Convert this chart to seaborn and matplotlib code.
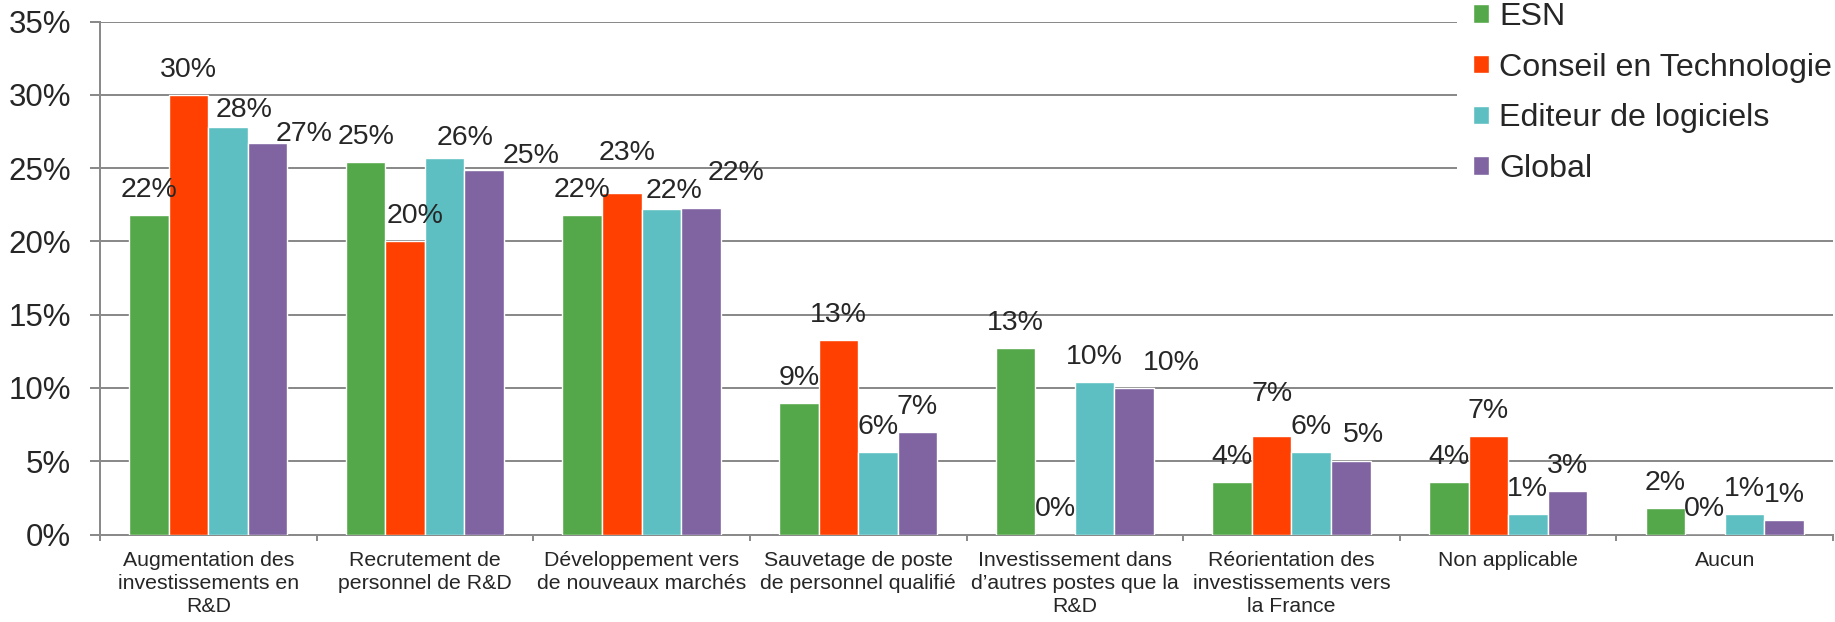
import matplotlib
matplotlib.use("Agg")
import matplotlib.pyplot as plt
import seaborn as sns
import pandas as pd
from matplotlib.ticker import FixedLocator, PercentFormatter

# données (en %)
categories = [
    "Augmentation des\ninvestissements en\nR&D",
    "Recrutement de\npersonnel de R&D",
    "Développement vers\nde nouveaux marchés",
    "Sauvetage de poste\nde personnel qualifié",
    "Investissement dans\nd’autres postes que la\nR&D",
    "Réorientation des\ninvestissements vers\nla France",
    "Non applicable",
    "Aucun",
]
series = ["ESN", "Conseil en Technologie", "Editeur de logiciels", "Global"]
esn = [21.8, 25.4, 21.8, 9.0, 12.7, 3.6, 3.6, 1.8]
conseil = [30.0, 20.0, 23.3, 13.3, 0.0, 6.7, 6.7, 0.0]
editeur = [27.8, 25.7, 22.2, 5.6, 10.4, 5.6, 1.4, 1.4]
global_ = [26.7, 24.9, 22.3, 7.0, 10.0, 5.0, 3.0, 1.0]
y_ticks = [0, 5, 10, 15, 20, 25, 30, 35]

colors = ["#55A84A", "#FF4000", "#5DBFC2", "#8064A2"]
grid_color = "#8A8A8A"

# quelques étiquettes déplacées à la main dans l'original : (décalage x, écart au-dessus) en px
label_nudge = {
    (0, 2): (16, 10), (0, 3): (36, 2),
    (1, 1): (10, 18), (1, 2): (20, 13), (1, 3): (47, 7),
    (2, 1): (5, 33), (2, 2): (13, 11), (2, 3): (35, 28),
    (4, 3): (37, 18),
    (5, 1): (0, 35), (5, 3): (13, 19),
}

rows = []
for name, vals in zip(series, [esn, conseil, editeur, global_]):
    for cat, v in zip(categories, vals):
        rows.append({"categorie": cat, "serie": name, "valeur": v})
df = pd.DataFrame(rows)

sns.set_theme(style="white")
plt.rcParams["font.family"] = ["Liberation Sans", "DejaVu Sans"]

px = 72 / 100  # points par pixel

fig = plt.figure(figsize=(18.35, 6.22), dpi=100)
ax = fig.add_axes([100 / 1835, 87.5 / 622, 1733 / 1835, 512.8 / 622])

sns.barplot(data=df, x="categorie", y="valeur", hue="serie", order=categories,
            hue_order=series, palette=colors, saturation=1, width=0.73,
            errorbar=None, ax=ax, zorder=3)

ax.set_xlim(-0.5, len(categories) - 0.5)
ax.set_ylim(0, 35)
ax.set_yticks(y_ticks)
ax.yaxis.set_major_formatter(PercentFormatter(decimals=0))
ax.set_xlabel("")
ax.set_ylabel("")

ax.grid(axis="y", color=grid_color, linewidth=2 * px, zorder=0)
ax.set_axisbelow(True)
for side in ["top", "right"]:
    ax.spines[side].set_visible(False)
for side in ["left", "bottom"]:
    ax.spines[side].set_color(grid_color)
    ax.spines[side].set_linewidth(2 * px)

ax.tick_params(axis="y", labelsize=22.5, length=10 * px, width=2 * px,
               color=grid_color, pad=13.5, left=True)
ax.tick_params(axis="x", which="major", labelsize=15.3, length=0, pad=12)
ax.xaxis.set_minor_locator(FixedLocator([i - 0.5 for i in range(len(categories) + 1)]))
ax.tick_params(axis="x", which="minor", length=6 * px, width=2 * px,
               color=grid_color, bottom=True)
for lab in ax.get_xticklabels():
    lab.set_linespacing(1.25)

# étiquettes de valeurs
for s_idx, cont in enumerate(ax.containers):
    for c_idx, bar in enumerate(cont):
        h = bar.get_height()
        dx, gap = label_nudge.get((c_idx, s_idx), (0, 18))
        ax.annotate(f"{h:.0f}%", (bar.get_x() + bar.get_width() / 2, h),
                    xytext=(dx * px, gap * px), textcoords="offset points",
                    ha="center", va="baseline", fontsize=20.5, zorder=5)

handles, labels = ax.get_legend_handles_labels()
ax.get_legend().remove()
leg = fig.legend(handles, labels, loc="upper left",
                 bbox_to_anchor=(1457 / 1835, 1 + 14 / 622),
                 fontsize=23.2, frameon=True, facecolor="white", edgecolor="none",
                 framealpha=1, fancybox=False, borderpad=0.5,
                 handlelength=0.5, handleheight=0.5, handletextpad=0.3,
                 labelspacing=0.64, borderaxespad=0)
leg.set_zorder(10)

fig.savefig("out.png", dpi=100)
